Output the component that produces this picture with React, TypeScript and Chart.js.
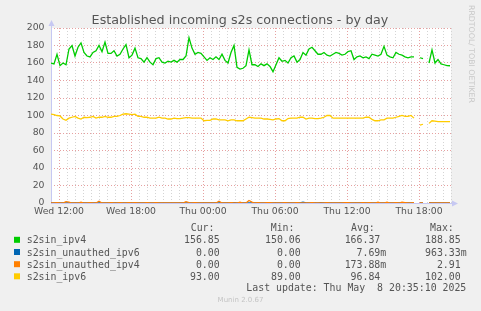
import React, { useEffect, useRef } from "react";
import { Chart, registerables } from "chart.js";

Chart.register(...registerables);

// time axis in minutes since Wed 00:00
const X_MIN = 680;
const X_MAX = 2680;
const STEP_MIN = 15;
const GRID_STEP = 40;
const MAJOR_STEP = 360;
const DAY_NAMES = ["Wed", "Thu"];

const Y_MIN = 0;
const Y_MAX = 200;
const Y_STEP = 10;
const Y_LABEL_STEP = 20;

const TITLE = "Established incoming s2s connections - by day";

const ipv4 = [
  160, 159, 170, 157, 160, 158, 176, 180, 168, 178,
  183, 172, 168, 167, 172, 174, 180, 173, 184, 171,
  171, 174, 168, 170, 176, 181, 166, 169, 177, 166,
  165, 161, 166, 161, 158, 165, 166, 161, 160, 162,
  161, 163, 161, 164, 164, 168, 188.85, 177, 170, 172,
  171, 167, 163, 166, 164, 167, 164, 170, 163, 160,
  172, 180, 155, 153, 154, 157, 175, 158, 158, 156,
  159, 157, 159, 156, 150.06, 158, 166, 162, 163, 160,
  166, 168, 161, 164, 172, 169, 176, 178, 174, 170,
  170, 172, 169, 168, 170, 172, 171, 169, 170, 173,
  174, 164, 167, 168, 166, 167, 165, 170, 169, 168,
  170, 179, 169, 167, 166, 172, 170, 169, 167, 166,
  167, 167, null, 166, 165, null, 160, 175, 160, 164,
  159, 158, 157, 156.85,
];

const unauthedIpv6 = [
  0, 0, 0, 0, 0, 0, 0, 0, 0, 0,
  0, 0, 0, 0, 0, 0, 0, 0, 0, 0,
  0, 0, 0, 0, 0, 0, 0, 0, 0, 0,
  0, 0, 0, 0, 0, 0, 0, 0, 0, 0,
  0, 0, 0, 0, 0, 0, 0, 0, 0, 0,
  0, 0, 0, 0, 0, 0, 0, 0, 0, 0,
  0, 0.3, 0, 0, 0, 0, 0, 0, 0, 0,
  0, 0, 0, 0, 0, 0, 0, 0, 0, 0,
  0, 0, 0, 0, 0.96, 0, 0, 0, 0, 0,
  0.5, 0, 0, 0, 0, 0, 0, 0, 0, 0,
  0, 0, 0, 0, 0, 0, 0, 0, 0, 0,
  0, 0, 0, 0, 0, 0, 0, 0, 0, 0,
  0, 0, null, 0, 0, null, 0.5, 0, 0, 0,
  0, 0, 0, 0,
];

const unauthedIpv4 = [
  0, 0, 0.5, 0, 0, 1.5, 1, 0, 0, 0,
  1, 0, 0, 0.5, 0, 0, 2, 0, 0, 0,
  0.5, 0, 0, 0.5, 0, 0, 0.5, 0, 0.5, 0,
  0, 0, 0.5, 0, 0, 0.5, 0, 0, 0, 0,
  0, 0, 0, 0, 0, 1.5, 0.5, 0, 0.5, 0,
  0, 0, 0, 0, 0, 0, 2, 0, 0, 0,
  0.5, 0, 0, 1, 0, 0, 2.91, 1, 0, 0.5,
  0, 0, 0.5, 0.5, 0, 0, 0, 0, 0.5, 0,
  0, 0, 0.5, 0, 0, 0, 0, 0.5, 0, 0,
  0, 0, 0.5, 0, 0, 0, 0, 0, 0.5, 0.5,
  0, 0, 0, 0, 0.5, 0, 0.5, 0, 0, 1,
  0, 0, 1, 0, 0, 0.5, 0, 1, 0.5, 0,
  0, 0.5, null, 0, 0, null, 0, 0, 0, 0,
  0, 0, 0, 0,
];

const ipv6 = [
  101.5, 101, 100, 99.5, 96, 94.5, 97, 98, 99, 97,
  96, 98, 97.5, 98, 99, 97, 98, 98, 99, 98,
  98, 99, 99, 100, 101.5, 102, 101.5, 101, 101.5, 99,
  99, 98, 98, 97, 97, 97, 98, 97, 97, 96,
  96, 97, 96.5, 96.5, 97, 97.5, 97.5, 97, 97, 97,
  97, 94, 94.5, 94.5, 96, 96, 95, 95, 95, 94,
  95, 95, 94, 94, 94, 96, 98, 97.5, 97, 97,
  97, 96, 96, 95.5, 95, 96, 96.5, 94, 94, 96.5,
  97, 97, 97, 98, 98, 96, 97, 97, 96.5, 96.5,
  97, 98, 100, 100, 97, 97, 97, 97, 97, 97,
  97, 97, 97, 97, 97, 98, 98, 95.5, 94, 94,
  95, 95, 97, 97, 97, 98, 99, 100, 99, 99,
  100, 97, null, 89, 90, null, 91, 94, 93.5, 93,
  93, 93, 93, 93,
];

const SERIES_NAMES = ["s2sin_ipv4", "s2sin_unauthed_ipv6", "s2sin_unauthed_ipv4", "s2sin_ipv6"];
const SERIES_COLORS = ["#00cc00", "#0066b3", "#ff8000", "#ffcc00"];
const STAT_HEADERS = ["Cur:", "Min:", "Avg:", "Max:"];
const CUR_VALUES = ["156.85", "0.00", "0.00", "93.00"];
const MIN_VALUES = ["150.06", "0.00", "0.00", "89.00"];
const AVG_VALUES = ["166.37", "7.69m", "173.88m", "96.84"];
const MAX_VALUES = ["188.85", "963.33m", "2.91", "102.00"];
const LAST_UPDATE = "Last update: Thu May  8 20:35:10 2025";
const FOOTER = "Munin 2.0.67";
const WATERMARK = "RRDTOOL/ TOBI OETIKER";

const MAJOR_GRID = "#e6a0a0";
const MINOR_GRID = "#d4d4d4";
const AXIS_COLOR = "#c6c8f2";
const TEXT_COLOR = "#555555";
const SANS = "'DejaVu Sans', sans-serif";
const MONO = "'DejaVu Sans Mono', monospace";

function timeLabel(v: number): string {
  if ((v - 720) % MAJOR_STEP !== 0) return "";
  const day = Math.floor(v / 1440);
  const mins = v % 1440;
  const hh = String(Math.floor(mins / 60)).padStart(2, "0");
  const mm = String(mins % 60).padStart(2, "0");
  return `${DAY_NAMES[day]} ${hh}:${mm}`;
}

function gridTimes(): number[] {
  const out: number[] = [];
  for (let t = Math.ceil(X_MIN / GRID_STEP) * GRID_STEP; t <= X_MAX; t += GRID_STEP) out.push(t);
  return out;
}

const decorPlugin = {
  id: "muninDecor",
  beforeDraw(chart: any) {
    const { ctx, chartArea: a, width, height } = chart;
    ctx.save();
    ctx.fillStyle = "#f0f0f0";
    ctx.fillRect(0, 0, width, height);
    ctx.fillStyle = "#ffffff";
    ctx.fillRect(a.left, a.top, a.right - a.left, a.bottom - a.top);
    ctx.restore();
  },
  beforeDatasetsDraw(chart: any) {
    const { ctx, chartArea: a } = chart;
    ctx.save();
    ctx.strokeStyle = AXIS_COLOR;
    ctx.fillStyle = AXIS_COLOR;
    ctx.lineWidth = 1;
    const ax = Math.round(a.left) + 0.5;
    const ay = Math.round(a.bottom) + 0.5;
    ctx.beginPath();
    ctx.moveTo(ax, a.top - 2);
    ctx.lineTo(ax, ay);
    ctx.lineTo(a.right + 1, ay);
    ctx.stroke();
    ctx.beginPath();
    ctx.moveTo(ax - 3, a.top - 2);
    ctx.lineTo(ax + 3, a.top - 2);
    ctx.lineTo(ax, a.top - 8);
    ctx.closePath();
    ctx.fill();
    ctx.beginPath();
    ctx.moveTo(a.right + 1, ay - 3);
    ctx.lineTo(a.right + 1, ay + 3);
    ctx.lineTo(a.right + 7, ay);
    ctx.closePath();
    ctx.fill();
    ctx.restore();
  },
  afterDraw(chart: any) {
    const { ctx, width } = chart;
    ctx.save();
    ctx.fillStyle = TEXT_COLOR;
    ctx.font = `12.7px ${SANS}`;
    ctx.textAlign = "center";
    ctx.textBaseline = "alphabetic";
    ctx.fillText(TITLE, 240, 24);

    ctx.save();
    ctx.translate(471, 5);
    ctx.rotate(Math.PI / 2);
    ctx.fillStyle = "#c8c8c8";
    ctx.font = `7.8px ${SANS}`;
    ctx.textAlign = "left";
    ctx.textBaseline = "middle";
    ctx.fillText(WATERMARK, 0, 0);
    ctx.restore();

    ctx.font = `9.9px ${MONO}`;
    ctx.fillStyle = TEXT_COLOR;
    ctx.textBaseline = "alphabetic";
    const headerX = [190.7, 270.7, 351, 430];
    const colRight = [219.7, 300.7, 380.3, 460.7];
    ctx.textAlign = "left";
    STAT_HEADERS.forEach((h, k) => ctx.fillText(h, headerX[k], 231.3));
    const cols = [CUR_VALUES, MIN_VALUES, AVG_VALUES, MAX_VALUES];
    const rowBase = [243.3, 255.5, 267.7, 279.8];
    SERIES_NAMES.forEach((name, r) => {
      const yb = rowBase[r];
      ctx.fillStyle = SERIES_COLORS[r];
      ctx.fillRect(14, yb - 6.5, 6, 6);
      ctx.fillStyle = TEXT_COLOR;
      ctx.textAlign = "left";
      ctx.fillText(name, 26.7, yb);
      cols.forEach((col, k) => {
        const s = col[r];
        const hasUnit = /[a-zA-Z]$/.test(s);
        const num = hasUnit ? s.slice(0, -1) : s;
        ctx.textAlign = "right";
        ctx.fillText(num, colRight[k], yb);
        if (hasUnit) {
          ctx.textAlign = "left";
          ctx.fillText(s.slice(-1), colRight[k], yb);
        }
      });
    });
    ctx.textAlign = "right";
    ctx.fillText(LAST_UPDATE, 466.3, 290.9);

    ctx.fillStyle = "#c4c4c4";
    ctx.font = `7px ${SANS}`;
    ctx.textAlign = "center";
    ctx.textBaseline = "middle";
    ctx.fillText(FOOTER, width / 2, 300.5);
    ctx.restore();
  },
};

export default function App() {
  const ref = useRef<HTMLCanvasElement>(null);

  useEffect(() => {
    document.body.style.margin = "0";
    document.body.style.background = "#f0f0f0";
    const canvas = ref.current;
    if (!canvas) return;
    const toPoints = (arr: (number | null)[]) =>
      arr.map((v, i) => ({ x: X_MIN + i * STEP_MIN, y: v }));
    const seriesData = [ipv4, unauthedIpv6, unauthedIpv4, ipv6];
    const order = [3, 2, 0, 1];

    const chart = new Chart(canvas, {
      type: "line",
      data: {
        datasets: seriesData.map((arr, k) => ({
          label: SERIES_NAMES[k],
          data: toPoints(arr),
          borderColor: SERIES_COLORS[k],
          backgroundColor: SERIES_COLORS[k],
          borderWidth: 1.3,
          pointRadius: 0,
          tension: 0,
          spanGaps: false,
          fill: false,
          order: order[k],
        })),
      },
      options: {
        animation: false,
        responsive: false,
        devicePixelRatio: 1,
        layout: { padding: { top: 28, right: 30, left: 0, bottom: 0 } },
        plugins: {
          legend: { display: false },
          title: { display: false },
          tooltip: { enabled: false },
        },
        scales: {
          x: {
            type: "linear",
            min: X_MIN,
            max: X_MAX,
            afterFit: (s: any) => {
              s.height = 108;
            },
            afterBuildTicks: (s: any) => {
              s.ticks = gridTimes().map((v) => ({ value: v }));
            },
            grid: {
              drawTicks: false,
              lineWidth: 1,
              color: (c: any) =>
                c.tick && (c.tick.value - 720) % MAJOR_STEP === 0 ? MAJOR_GRID : MINOR_GRID,
            },
            border: { display: false, dash: [1, 2] },
            ticks: {
              autoSkip: false,
              maxRotation: 0,
              minRotation: 0,
              padding: 3.5,
              color: TEXT_COLOR,
              font: { family: SANS, size: 9.3 },
              callback: (v: any) => timeLabel(Number(v)),
            },
          },
          y: {
            type: "linear",
            min: Y_MIN,
            max: Y_MAX,
            afterFit: (s: any) => {
              s.width = 51;
            },
            grid: {
              drawTicks: false,
              lineWidth: 1,
              color: (c: any) =>
                c.tick && c.tick.value % Y_LABEL_STEP === 0 ? MAJOR_GRID : MINOR_GRID,
            },
            border: { display: false, dash: [1, 2] },
            ticks: {
              stepSize: Y_STEP,
              padding: 6.5,
              color: TEXT_COLOR,
              font: { family: SANS, size: 9.3 },
              callback: (v: any) => (Number(v) % Y_LABEL_STEP === 0 ? String(v) : ""),
            },
          },
        },
      },
      plugins: [decorPlugin],
    });
    return () => chart.destroy();
  }, []);

  return <canvas ref={ref} width={481} height={311} style={{ display: "block" }} />;
}
